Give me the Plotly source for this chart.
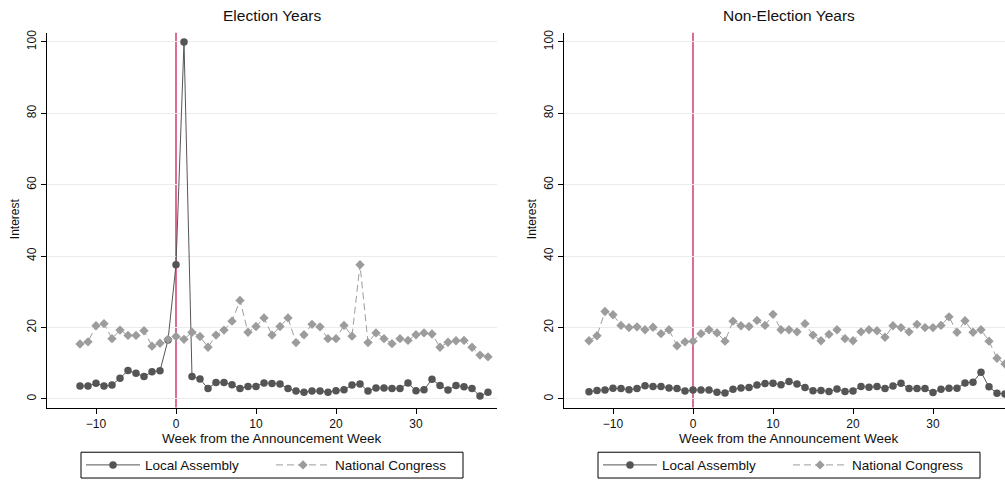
import plotly.graph_objects as go

# Weekly search interest around the announcement week
weeks_election = list(range(-12, 40))
local_election = [3.6, 3.6, 4.4, 3.6, 3.9, 5.8, 8.0, 7.2, 6.3, 7.6,
                  7.9, 16.5, 37.6, 100, 6.3, 5.6, 2.9, 4.6, 4.6, 4.0,
                  2.9, 3.5, 3.5, 4.5, 4.3, 4.2, 2.9, 2.2, 1.9, 2.2,
                  2.2, 1.9, 2.3, 2.6, 3.9, 4.2, 2.2, 3.1, 3.1, 2.9,
                  2.9, 4.5, 2.3, 2.6, 5.5, 3.8, 2.5, 3.8, 3.4, 2.9,
                  0.8, 1.9]
national_election = [15.4, 16.0, 20.5, 21.1, 16.9, 19.3, 17.8, 17.8, 19.1, 14.8,
                     15.6, 16.7, 17.5, 16.7, 18.7, 17.5, 14.5, 17.9, 19.3, 21.8,
                     27.6, 18.7, 20.3, 22.7, 17.9, 20.3, 22.7, 15.8, 18.0, 20.9,
                     20.2, 16.9, 16.9, 20.6, 17.6, 37.6, 15.8, 18.5, 16.9, 15.5,
                     16.9, 16.4, 18.0, 18.5, 18.2, 14.5, 15.9, 16.3, 16.4, 14.5,
                     12.3, 11.8]

weeks_non_election = list(range(-13, 40))
local_non_election = [2.0, 2.4, 2.5, 3.0, 2.9, 2.6, 2.9, 3.7, 3.5, 3.5,
                      3.1, 2.9, 2.2, 2.5, 2.5, 2.5, 1.9, 1.7, 2.7, 3.1,
                      3.2, 3.9, 4.3, 4.4, 4.0, 4.9, 4.2, 3.2, 2.3, 2.4,
                      2.1, 2.8, 2.1, 2.2, 3.5, 3.3, 3.5, 2.9, 3.6, 4.4,
                      2.9, 2.9, 2.9, 1.8, 2.7, 3.0, 3.0, 4.5, 4.7, 7.5,
                      3.4, 1.6, 1.4]
national_non_election = [16.3, 17.7, 24.5, 23.6, 20.6, 20.0, 20.2, 19.4, 20.1, 18.3,
                         19.4, 14.9, 16.0, 16.2, 18.3, 19.4, 18.5, 16.2, 21.8, 20.5,
                         20.3, 22.0, 20.6, 23.7, 19.4, 19.4, 18.8, 21.1, 17.9, 16.3,
                         18.1, 19.4, 16.9, 16.3, 18.8, 19.4, 19.1, 17.3, 20.5, 20.0,
                         18.8, 20.9, 20.0, 20.0, 20.6, 23.0, 18.7, 21.9, 18.7, 19.4,
                         16.2, 11.4, 9.8]

panel_titles = ["Election Years", "Non-Election Years"]
series_names = ["Local Assembly", "National Congress"]
x_ticks = [-10, 0, 10, 20, 30]
y_ticks = [0, 20, 40, 60, 80, 100]

W, H = 1005, 481
FONT = "Liberation Sans, Arial, sans-serif"
DARK = "#555555"
LIGHT = "#9c9c9c"
RED = "#cc2050"

# pixel layout of the two panels
top_px, bottom_px = 30, 408
left_dom = [47 / W, 497 / W]
right_dom = [564 / W, 1.0]
y_dom = [(H - bottom_px) / H, (H - top_px) / H]

fig = go.Figure()

# one legend per entry so each key sits at its own spot inside the frame
panels = [
    ("x", "y", ("legend", "legend2"), weeks_election, local_election, national_election),
    ("x2", "y2", ("legend3", "legend4"), weeks_non_election, local_non_election, national_non_election),
]
for xa, ya, legs, wk, loc, nat in panels:
    fig.add_trace(go.Scatter(
        x=wk, y=loc, name=series_names[0], xaxis=xa, yaxis=ya, legend=legs[0],
        mode="lines+markers",
        line=dict(color=DARK, width=1),
        marker=dict(symbol="circle", size=7.5, color=DARK),
    ))
    fig.add_trace(go.Scatter(
        x=wk, y=nat, name=series_names[1], xaxis=xa, yaxis=ya, legend=legs[1],
        mode="lines+markers",
        line=dict(color=LIGHT, width=1, dash="7px,4px"),
        marker=dict(symbol="diamond", size=7.2, color=LIGHT),
    ))

axis_common = dict(
    showline=True, linecolor="black", linewidth=1, mirror=False,
    ticks="outside", ticklen=5, tickcolor="black", tickwidth=1,
    zeroline=False, tickfont=dict(family=FONT, size=12, color="#111111"),
)
x_common = dict(axis_common, showgrid=False, tickvals=x_ticks)
y_common = dict(axis_common, showgrid=True, gridcolor="#ebebeb", gridwidth=1,
                tickvals=y_ticks, tickangle=-90, range=[-2.42, 102.58])

fig.update_layout(
    width=W, height=H,
    margin=dict(l=0, r=0, t=0, b=0),
    paper_bgcolor="white", plot_bgcolor="white",
    font=dict(family=FONT, size=12, color="#111111"),
    xaxis=dict(x_common, domain=left_dom, range=[-16.125, 40.125], anchor="y"),
    yaxis=dict(y_common, domain=y_dom, anchor="x"),
    xaxis2=dict(x_common, domain=right_dom, range=[-16.125, 39.0], anchor="y2"),
    yaxis2=dict(y_common, domain=y_dom, anchor="x2"),
    showlegend=True,
)

legend_common = dict(
    orientation="h", xanchor="left", yanchor="middle",
    y=(H - 466) / H, yref="paper",
    borderwidth=0, bgcolor="rgba(0,0,0,0)",
    font=dict(family=FONT, size=13.5, color="#111111"),
    itemwidth=54, tracegroupgap=0,
)
key_x = [81, 271, 598, 788]
fig.update_layout(
    legend=dict(legend_common, x=key_x[0] / W),
    legend2=dict(legend_common, x=key_x[1] / W),
    legend3=dict(legend_common, x=key_x[2] / W),
    legend4=dict(legend_common, x=key_x[3] / W),
)
for x0, x1 in [(81, 463), (598, 980)]:
    fig.add_shape(type="rect", xref="paper", yref="paper",
                  x0=x0 / W, x1=x1 / W, y0=(H - 479) / H, y1=(H - 453) / H,
                  line=dict(color="black", width=1), fillcolor="rgba(0,0,0,0)")

# reference line at the announcement week
for xa in ["x", "x2"]:
    fig.add_shape(type="line", xref=xa, yref=("y domain" if xa == "x" else "y2 domain"),
                  x0=0, x1=0, y0=0, y1=1, line=dict(color=RED, width=1.3), layer="below")

# panel titles and axis titles
centers = [272, 789]
y_title_x = [15, 532]
for i, cx in enumerate(centers):
    fig.add_annotation(text=panel_titles[i], x=cx / W, y=(H - 13) / H, xref="paper", yref="paper",
                       showarrow=False, xanchor="center", yanchor="middle",
                       font=dict(family=FONT, size=15.5, color="#111111"))
    fig.add_annotation(text="Week from the Announcement Week", x=cx / W, y=(H - 439) / H,
                       xref="paper", yref="paper", showarrow=False,
                       xanchor="center", yanchor="middle",
                       font=dict(family=FONT, size=13.5, color="#111111"))
    fig.add_annotation(text="Interest", x=y_title_x[i] / W, y=(H - 218) / H,
                       xref="paper", yref="paper", showarrow=False, textangle=-90,
                       xanchor="center", yanchor="middle",
                       font=dict(family=FONT, size=12, color="#111111"))

fig.write_html("out.html")
